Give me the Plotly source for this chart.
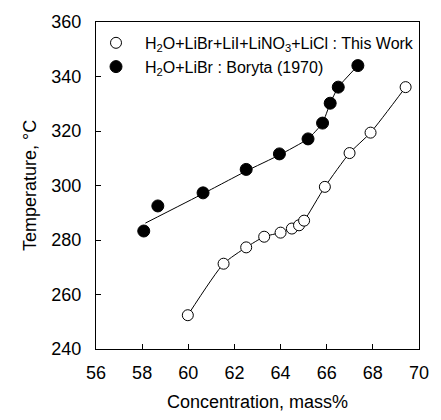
import plotly.graph_objects as go

# Filled circles: H2O+LiBr (Boryta 1970)
libr_x = [58.07, 58.68, 60.64, 62.51, 63.95, 65.19, 65.82, 66.15, 66.5, 67.35]
libr_y = [283.3, 292.5, 297.3, 305.9, 311.6, 317.1, 322.9, 330.2, 336.1, 344.0]
# fitted curve for LiBr data
libr_fit_x = [58.14, 60.64, 62.51, 63.95, 65.19, 65.82, 66.15, 66.5, 67.35]
libr_fit_y = [286.2, 297.0, 305.3, 311.2, 317.1, 322.9, 330.2, 336.1, 344.0]

# Open circles: H2O+LiBr+LiI+LiNO3+LiCl (this work)
mix_x = [59.98, 61.53, 62.51, 63.29, 64.0, 64.49, 64.8, 65.02, 65.92, 66.99, 67.9, 69.42]
mix_y = [252.4, 271.3, 277.3, 281.2, 282.7, 284.2, 285.4, 287.1, 299.5, 311.9, 319.4, 336.1]

x_ticks = [56, 58, 60, 62, 64, 66, 68, 70]
y_ticks = [240, 260, 280, 300, 320, 340, 360]

FONT = "Arial, Liberation Sans, sans-serif"

fig = go.Figure()
fig.add_trace(go.Scatter(x=mix_x, y=mix_y, mode="lines", line=dict(color="black", width=1, shape="spline", smoothing=0.6),
                         showlegend=False, hoverinfo="skip"))
fig.add_trace(go.Scatter(x=libr_fit_x, y=libr_fit_y, mode="lines", line=dict(color="black", width=1, shape="spline", smoothing=0.4),
                         showlegend=False, hoverinfo="skip"))
fig.add_trace(go.Scatter(x=mix_x, y=mix_y, mode="markers",
                         marker=dict(symbol="circle", size=11, color="white", line=dict(color="black", width=1)),
                         name="&nbsp;&nbsp;H<sub>2</sub>O+LiBr+LiI+LiNO<sub>3</sub>+LiCl : This Work"))
fig.add_trace(go.Scatter(x=libr_x, y=libr_y, mode="markers",
                         marker=dict(symbol="circle", size=12, color="black", line=dict(color="black", width=1)),
                         name="&nbsp;&nbsp;H<sub>2</sub>O+LiBr : Boryta (1970)"))

axis_common = dict(showgrid=False, zeroline=False, showline=True, linecolor="black", linewidth=1,
                   mirror=True, ticks="inside", ticklen=5, tickcolor="black",
                   tickfont=dict(family=FONT, size=18, color="black"))
fig.update_xaxes(range=[56, 70], tickvals=x_ticks, ticktext=[str(v) for v in x_ticks], ticklabelstandoff=7,
                 title=dict(text="Concentration, mass%", font=dict(family=FONT, size=18, color="black"), standoff=13),
                 **axis_common)
fig.update_yaxes(range=[240, 360], tickvals=y_ticks, ticktext=[str(v) for v in y_ticks], ticklabelstandoff=10,
                 title=dict(text="Temperature, °C", font=dict(family=FONT, size=18, color="black"), standoff=10),
                 **axis_common)

fig.update_layout(
    width=441, height=420,
    margin=dict(l=96, r=14, t=16, b=70),
    paper_bgcolor="white", plot_bgcolor="white",
    font=dict(family=FONT, color="black"),
    legend=dict(x=0.0, y=0.988, xanchor="left", yanchor="top", bgcolor="rgba(0,0,0,0)",
                font=dict(family=FONT, size=16, color="black"), itemwidth=30, tracegroupgap=0),
)

fig.write_html("out.html")
